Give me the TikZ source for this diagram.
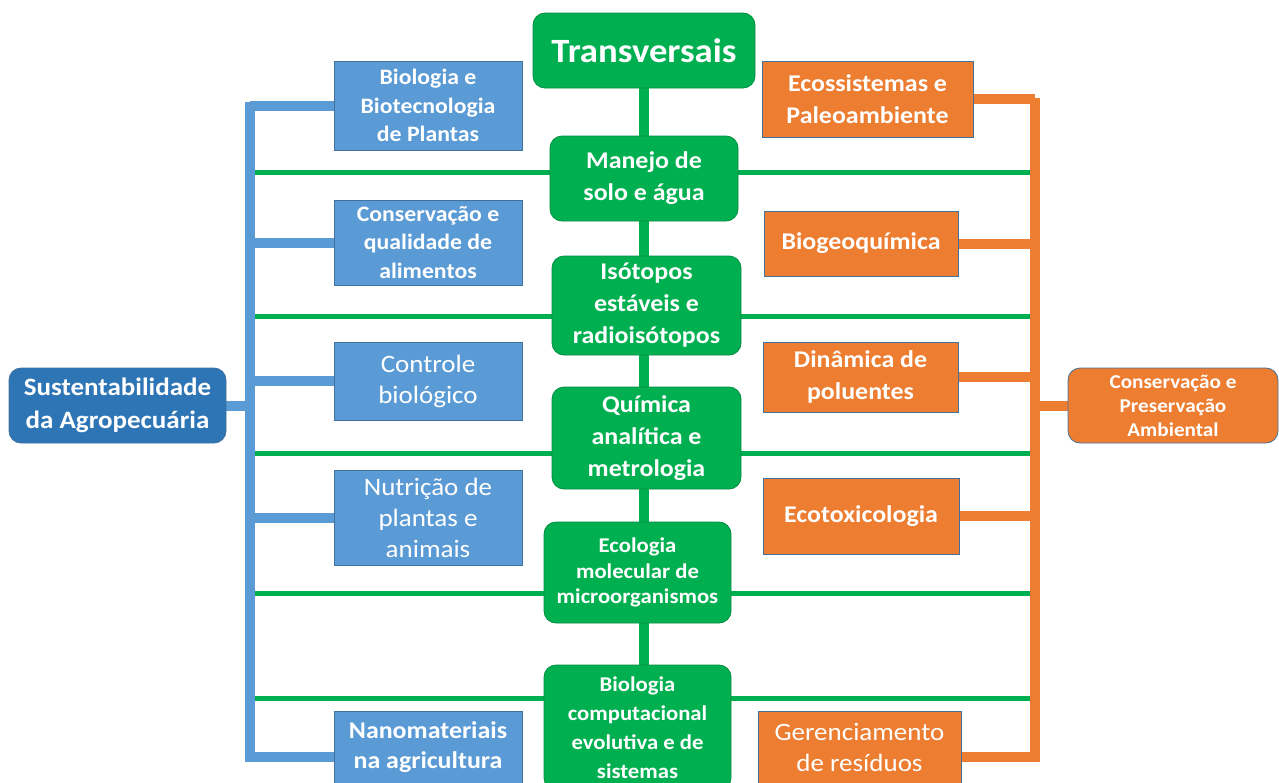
\documentclass[tikz,border=0pt]{standalone}
\usepackage{fontspec}
\setmainfont{Carlito}[FakeStretch=1.08]
\usetikzlibrary{positioning,backgrounds}
\definecolor{verde}{HTML}{00B050}
\definecolor{azulclaro}{HTML}{5B9BD5}
\definecolor{azulesc}{HTML}{2E75B6}
\definecolor{laranja}{HTML}{ED7D31}
\definecolor{borda}{HTML}{41719C}
\tikzstyle{caixaverde}=[rectangle,rounded corners=6pt,draw=verde!80!black,fill=verde,text=white,align=center,inner sep=0pt]
\tikzstyle{caixaazul}=[rectangle,draw=borda,fill=azulclaro,text=white,align=center,inner sep=0pt]
\tikzstyle{caixalaranja}=[rectangle,draw=borda,fill=laranja,text=white,align=center,inner sep=0pt]
\tikzstyle{eixo}=[rectangle,rounded corners=6pt,text=white,align=center,inner sep=0pt]
\tikzstyle{ramoazul}=[draw=azulclaro,line width=5pt]
\tikzstyle{ramolaranja}=[draw=laranja,line width=5pt]
\tikzstyle{ramoverde}=[draw=verde,line width=2.5pt]
\newcommand{\fs}[2]{\fontsize{#1}{#2}\selectfont}

\begin{document}
\begin{tikzpicture}[x=0.5pt,y=-0.5pt]
\clip (0,0) rectangle (1279,782);

% transversais
\node[caixaverde,minimum width=111pt,minimum height=37.5pt,font=\bfseries\fs{17}{20}] (trans) at (644,50.5) {Transversais};
\node[caixaverde,minimum width=94pt,minimum height=42.5pt,font=\bfseries\fs{12}{16}] (manejo) at (644,178.5) {Manejo de\\solo e água};
\node[caixaverde,minimum width=94.5pt,minimum height=49.5pt,font=\bfseries\fs{12}{16}] (isotopos) at (646.5,305.5) {Isótopos\\estáveis e\\radioisótopos};
\node[caixaverde,minimum width=94.5pt,minimum height=51pt,font=\bfseries\fs{12}{16}] (quimica) at (646.5,438) {Química\\analítica e\\metrologia};
\node[caixaverde,minimum width=93.5pt,minimum height=50.5pt,font=\bfseries\fs{10.5}{12.8}] (ecologia) at (637.5,572.5) {Ecologia\\molecular de\\microorganismos};
\node[caixaverde,minimum width=93.5pt,minimum height=62.5pt,font=\bfseries\fs{10.5}{14.5}] (biocomp) at (637.5,727.5) {Biologia\\computacional\\evolutiva e de\\sistemas};

% sustentabilidade
\node[eixo,draw=borda,fill=azulesc,minimum width=108.5pt,minimum height=37.5pt,font=\bfseries\fs{12.5}{16.5}] (sust) at (117.5,405.5) {Sustentabilidade\\da Agropecuária};
\node[caixaazul,minimum width=94pt,minimum height=44.5pt,font=\bfseries\fs{11}{14.25}] (biotec) at (428,105.5) {Biologia e\\Biotecnologia\\de Plantas};
\node[caixaazul,minimum width=94pt,minimum height=42.5pt,font=\bfseries\fs{11}{14.25}] (conserv) at (428,242.5) {Conservação e\\qualidade de\\alimentos};
\node[caixaazul,minimum width=94pt,minimum height=39pt,font=\fs{12.5}{15.5}] (controle) at (428,381) {Controle\\biológico};
\node[caixaazul,minimum width=94pt,minimum height=47.5pt,font=\fs{12.5}{15.5}] (nutricao) at (428,517.5) {Nutrição de\\plantas e\\animais};
\node[caixaazul,minimum width=94pt,minimum height=36.5pt,font=\bfseries\fs{12}{15}] (nano) at (428,747.5) {Nanomateriais\\na agricultura};

% conservacao ambiental
\node[eixo,draw=borda,fill=laranja,minimum width=105pt,minimum height=37.5pt,font=\bfseries\fs{9.8}{12}] (consamb) at (1173,405.5) {Conservação e\\Preservação\\Ambiental};
\node[caixalaranja,minimum width=105.5pt,minimum height=38pt,font=\bfseries\fs{12}{16}] (ecossist) at (867.5,99) {Ecossistemas e\\Paleoambiente};
\node[caixalaranja,minimum width=97pt,minimum height=32.5pt,font=\bfseries\fs{12}{16}] (biogeo) at (861,243.5) {Biogeoquímica};
\node[caixalaranja,minimum width=97.5pt,minimum height=35pt,font=\bfseries\fs{12}{16}] (dinamica) at (860.5,377) {Dinâmica de\\poluentes};
\node[caixalaranja,minimum width=98pt,minimum height=38pt,font=\bfseries\fs{12}{16}] (ecotox) at (861,516) {Ecotoxicologia};
\node[caixalaranja,minimum width=101.5pt,minimum height=36.5pt,font=\fs{12.5}{15.5}] (gerenc) at (859.5,747.5) {Gerenciamento\\de resíduos};

\coordinate (btop) at (250,102);
\coordinate (bbot) at (250,762);
\coordinate (otop) at (1035,98);
\coordinate (obot) at (1035,762);

\begin{scope}[on background layer]
% linhas verdes
\foreach \y in {172,316,453,593,698}
  \draw[ramoverde] (250,\y) -- (1035,\y);
\draw[draw=verde,line width=5pt] (trans.south) -- (trans.south |- biocomp.north);
% eixo azul
\draw[ramoazul] (btop) -- (bbot);
\foreach \n in {biotec,conserv,controle,nutricao}
  \draw[ramoazul] (\n.west) -- (\n.west -| btop);
\draw[ramoazul] (nano.west |- bbot) ++(0,-5) -- ++(-84,0);
\draw[ramoazul] (sust.east) -- (sust.east -| btop);
% eixo laranja
\draw[ramolaranja] (otop) -- (obot);
\foreach \n in {ecossist,biogeo,dinamica,ecotox}
  \draw[ramolaranja] (\n.east) -- (\n.east -| otop);
\draw[ramolaranja] (gerenc.east |- obot) ++(0,-5) -- ++(74,0);
\draw[ramolaranja] (consamb.west) -- (consamb.west -| otop);
\end{scope}

\end{tikzpicture}
\end{document}
